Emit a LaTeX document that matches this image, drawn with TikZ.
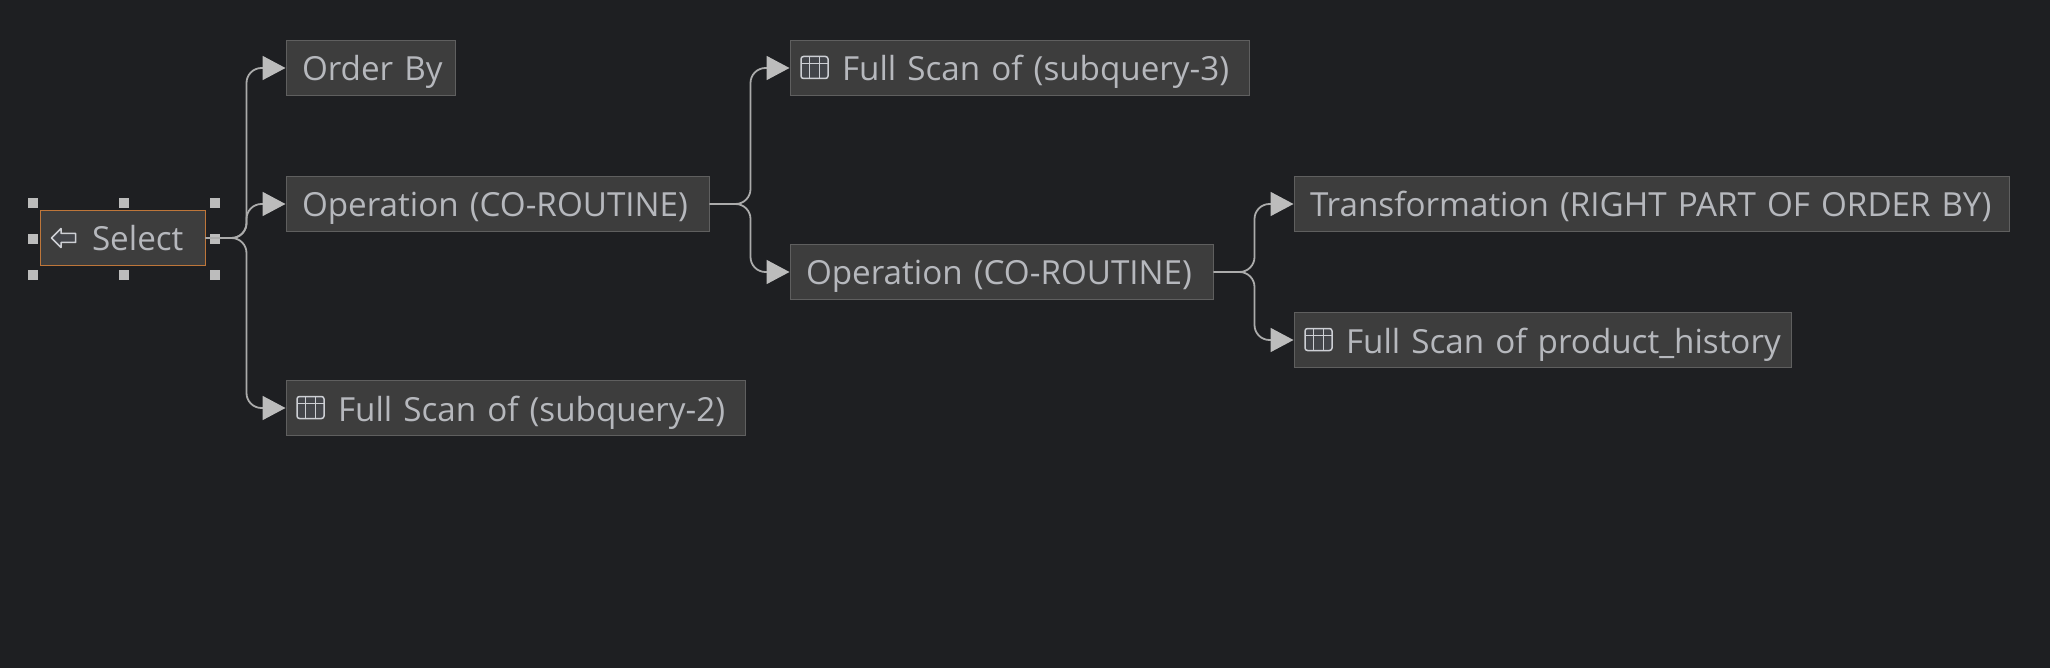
\documentclass[tikz,border=0pt]{standalone}
\usepackage{fontspec}
\setmainfont{Open Sans}
\usetikzlibrary{arrows.meta}
\definecolor{bgdark}{HTML}{1E1F22}
\definecolor{boxfill}{HTML}{3D3D3D}
\definecolor{boxline}{HTML}{5F5F5F}
\definecolor{boxtext}{HTML}{B6B8BD}
\definecolor{selectline}{HTML}{BE763A}
\definecolor{edgeline}{HTML}{ABABAB}
\definecolor{edgetip}{HTML}{BCBCBC}
\definecolor{iconline}{HTML}{CDCFD4}
\definecolor{iconfill}{HTML}{43454A}
\tikzset{
  planbox/.style={draw=boxline,fill=boxfill,text=boxtext,line width=1.2pt,anchor=west,
    minimum height=55pt,inner xsep=10pt,inner ysep=0pt,outer sep=0pt,align=left,
    text width=#1pt-20pt,text height=26pt,text depth=0pt,font=\fontsize{33.2}{36}\selectfont,
    execute at begin node=\hspace*{5.5pt}},
  handle/.style={fill=edgetip,inner sep=0pt,minimum size=10pt,outer sep=0pt},
  edge/.style={draw=edgeline,line width=1.8pt,rounded corners=15pt,shorten >=1pt,
    -{Triangle[length=23pt,width=24pt,color=edgetip]},
    to path={-- ++(41,0) |- (\tikztotarget)}},
  pics/tableicon/.style={code={
    \fill[iconfill,rounded corners=2pt] (0,0) rectangle (27,22);
    \draw[iconline,line width=1.5pt,rounded corners=2.5pt] (0,0) rectangle (27,22);
    \draw[iconline,line width=1.5pt] (0,7) -- (27,7) (8.5,0) -- (8.5,22) (18.5,0) -- (18.5,22);
  }}
}
\begin{document}
\begin{tikzpicture}[x=1pt,y=-1pt]
  \fill[bgdark] (0,0) rectangle (2050,668);
  \useasboundingbox (0,0) rectangle (2050,668);

  % Poignees
  \node[handle] (h1) at (33,203) {};
  \node[handle] (h2) at (124,203) {};
  \node[handle] (h3) at (215,203) {};
  \node[handle] (h4) at (33,239) {};
  \node[handle] (h5) at (215,239) {};
  \node[handle] (h6) at (33,275) {};
  \node[handle] (h7) at (124,275) {};
  \node[handle] (h8) at (215,275) {};

  % Noeuds
  \node[planbox=165,draw=selectline] (select) at (40.5,238) {\hspace*{36pt}Select};
  \node[planbox=169] (orderby) at (286.5,68) {Order By};
  \node[planbox=423] (corout1) at (286.5,204) {Operation (CO-ROUTINE)};
  \node[planbox=459] (scan2) at (286.5,408) {\hspace*{36pt}Full Scan of (subquery-2)};
  \node[planbox=459] (scan3) at (790.5,68) {\hspace*{36pt}Full Scan of (subquery-3)};
  \node[planbox=423] (corout2) at (790.5,272) {Operation (CO-ROUTINE)};
  \node[planbox=715] (transfo) at (1294.5,204) {Transformation (RIGHT PART OF ORDER BY)};
  \node[planbox=497] (scanprod) at (1294.5,340) {\hspace*{36pt}Full Scan of product\_history};

  % Icones
  \draw[iconline,fill=iconfill,line width=1.5pt,line join=round]
    (51.5,238) -- (61,228.5) -- (61,233.5) -- (75.5,233.5) -- (75.5,242.5)
    -- (61,242.5) -- (61,247.5) -- cycle;
  \pic at ([xshift=10.5pt,yshift=11.5pt]scan2.west) {tableicon};
  \pic at ([xshift=10.5pt,yshift=11.5pt]scan3.west) {tableicon};
  \pic at ([xshift=10.5pt,yshift=11.5pt]scanprod.west) {tableicon};

  % Liens
  \draw[edge] (select.east) to (orderby.west);
  \draw[edge] (select.east) to (corout1.west);
  \draw[edge] (select.east) to (scan2.west);
  \draw[edge] (corout1.east) to (scan3.west);
  \draw[edge] (corout1.east) to (corout2.west);
  \draw[edge] (corout2.east) to (transfo.west);
  \draw[edge] (corout2.east) to (scanprod.west);
\end{tikzpicture}
\end{document}
